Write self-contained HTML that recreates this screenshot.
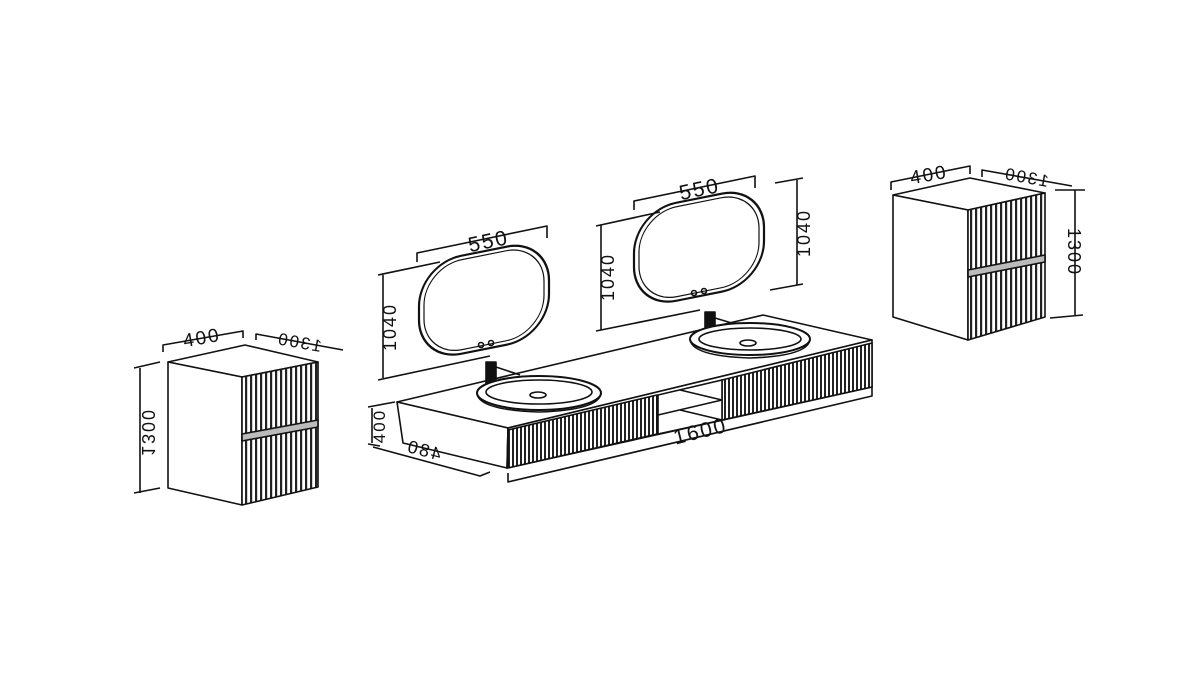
<!DOCTYPE html>
<html><head><meta charset="utf-8"><style>
html,body{margin:0;padding:0;background:#fff}
svg{display:block}
text{font-family:"Liberation Sans",sans-serif;fill:#111;letter-spacing:2px}
</style></head><body>
<svg width="1200" height="674" viewBox="0 0 1200 674" xmlns="http://www.w3.org/2000/svg">
<defs>
<pattern id="fl" width="5" height="10" patternUnits="userSpaceOnUse"><rect width="5" height="10" fill="#fff"/><rect width="2.2" height="10" fill="#222"/></pattern>
<pattern id="fl2" width="4" height="10" patternUnits="userSpaceOnUse"><rect width="4" height="10" fill="#fff"/><rect width="2" height="10" fill="#222"/></pattern>
</defs>
<g stroke="#111" stroke-width="1.6" fill="none" stroke-linejoin="round">

<polygon points="168,362 245,345 318,362 242,377" fill="#fff"/>
<polygon points="168,362 242,377 242,505 168,488" fill="#fff"/>
<polygon points="242,377 318,362 318,487 242,505" fill="url(#fl)"/>
<polygon points="242,434 318,420 318,427 242,441" fill="#bbb"/>
<polyline points="163,352 163,345 243,331 243,338"/>
<line x1="140" y1="368" x2="140" y2="493"/>
<line x1="134" y1="368" x2="160" y2="362"/>
<line x1="134" y1="493" x2="160" y2="488"/>
<polyline points="256,340 256,334 343,350"/>

<polygon points="893,195 970,178 1045,193 968,210" fill="#fff"/>
<polygon points="893,195 968,210 968,340 893,317" fill="#fff"/>
<polygon points="968,210 1045,193 1045,317 968,340" fill="url(#fl)"/>
<polygon points="968,270 1045,255 1045,262 968,277" fill="#bbb"/>
<polyline points="891,190 891,182 970,166 970,174"/>
<polyline points="982,177 982,170 1072,186"/>
<line x1="1075" y1="190" x2="1075" y2="315"/>
<line x1="1055" y1="190" x2="1085" y2="190"/>
<line x1="1050" y1="318" x2="1083" y2="315"/>

<g transform="matrix(1,-0.2,0,1,0,0)">
<rect x="419" y="348" width="130" height="98" rx="42" stroke-width="2.2" fill="#fff"/>
<rect x="424" y="352" width="120" height="90" rx="38" stroke-width="1.2"/>
</g>
<circle cx="481" cy="345" r="2.5"/><circle cx="491" cy="343" r="2.5"/>
<polyline points="417,262 417,253 547,226 547,238"/>
<line x1="383" y1="275" x2="383" y2="378"/>
<line x1="378" y1="275" x2="440" y2="262"/>
<line x1="378" y1="380" x2="490" y2="356"/>

<g transform="matrix(1,-0.2,0,1,0,0)">
<rect x="634" y="338" width="130" height="98" rx="42" stroke-width="2.2" fill="#fff"/>
<rect x="639" y="342" width="120" height="90" rx="38" stroke-width="1.2"/>
</g>
<circle cx="694" cy="293" r="2.5"/><circle cx="704" cy="291" r="2.5"/>
<polyline points="634,210 634,201 755,176 755,188"/>
<line x1="601" y1="225" x2="601" y2="330"/>
<line x1="596" y1="226" x2="660" y2="212"/>
<line x1="596" y1="331" x2="700" y2="310"/>
<line x1="797" y1="180" x2="797" y2="285"/>
<line x1="775" y1="183" x2="803" y2="178"/>
<line x1="770" y1="290" x2="803" y2="284"/>

<polygon points="397,402 763,315 872,340 508,428" fill="#fff"/>
<polygon points="397,402 508,428 507,468 403,443" fill="#fff"/>
<polygon points="508,428 872,340 872,387 507,468" fill="#fff"/>
<polygon points="508,430 657,395 657,434 508,468" fill="url(#fl2)"/>
<polygon points="722,380 872,343 872,387 722,420" fill="url(#fl2)"/>
<polygon points="658,395 722,380 722,420 658,434" fill="#fff"/>
<line x1="658" y1="415" x2="722" y2="400"/>
<line x1="680" y1="390" x2="722" y2="400"/>
<line x1="680" y1="410" x2="722" y2="420"/>
<polyline points="508,473 508,482 872,396 872,386"/>
<line x1="372" y1="408" x2="372" y2="443"/>
<line x1="368" y1="407" x2="395" y2="402"/>
<line x1="368" y1="444" x2="380" y2="446"/>
<polyline points="373,447 480,476 490,472"/>

<rect x="486" y="362" width="10" height="23" fill="#111"/>
<line x1="496" y1="367" x2="520" y2="375"/>
<ellipse cx="539" cy="393" rx="62" ry="17" fill="#fff" stroke-width="2"/>
<path d="M477 393 Q 478 410 539 412 Q 600 410 601 393"/>
<ellipse cx="539" cy="392" rx="53" ry="12"/>
<ellipse cx="538" cy="395" rx="8" ry="3"/>
<rect x="705" y="312" width="10" height="23" fill="#111"/>
<line x1="715" y1="318" x2="735" y2="324"/>
<ellipse cx="750" cy="339" rx="60" ry="16" fill="#fff" stroke-width="2"/>
<path d="M690 339 Q 691 356 750 358 Q 809 356 810 339"/>
<ellipse cx="750" cy="339" rx="51" ry="11"/>
<ellipse cx="748" cy="343" rx="8" ry="3"/>
</g>

<g font-size="19">
<text x="203" y="344" text-anchor="middle" transform="rotate(-10 203 344)">400</text>
<text x="0" y="0" text-anchor="middle" transform="translate(298,348) rotate(-170) scale(1,-1)" font-size="17">1300</text>
<text x="0" y="0" text-anchor="middle" transform="translate(142,432) rotate(90) scale(-1,1)" font-size="18">1300</text>
<text x="930" y="181" text-anchor="middle" transform="rotate(-10 930 181)">400</text>
<text x="0" y="0" text-anchor="middle" transform="translate(1025,183) rotate(-170) scale(1,-1)" font-size="17">1300</text>
<text x="0" y="0" text-anchor="middle" transform="translate(1068,252) rotate(90)" font-size="18">1300</text>
<text x="490" y="248" text-anchor="middle" transform="rotate(-12 490 248)" font-size="21">550</text>
<text x="701" y="196" text-anchor="middle" transform="rotate(-12 701 196)" font-size="21">550</text>
<text x="0" y="0" text-anchor="middle" transform="translate(396,327) rotate(-90)" font-size="18">1040</text>
<text x="0" y="0" text-anchor="middle" transform="translate(614,277) rotate(-90)" font-size="18">1040</text>
<text x="0" y="0" text-anchor="middle" transform="translate(810,233) rotate(-90)" font-size="18">1040</text>
<text x="0" y="0" text-anchor="middle" transform="translate(385,426) rotate(-90)" font-size="17">400</text>
<text x="0" y="0" text-anchor="middle" transform="translate(422,456) rotate(195) scale(1,-1)" font-size="18">480</text>
<text x="702" y="438" text-anchor="middle" transform="rotate(-14 702 438)" font-size="21">1600</text>
</g>
</svg>
</body></html>
